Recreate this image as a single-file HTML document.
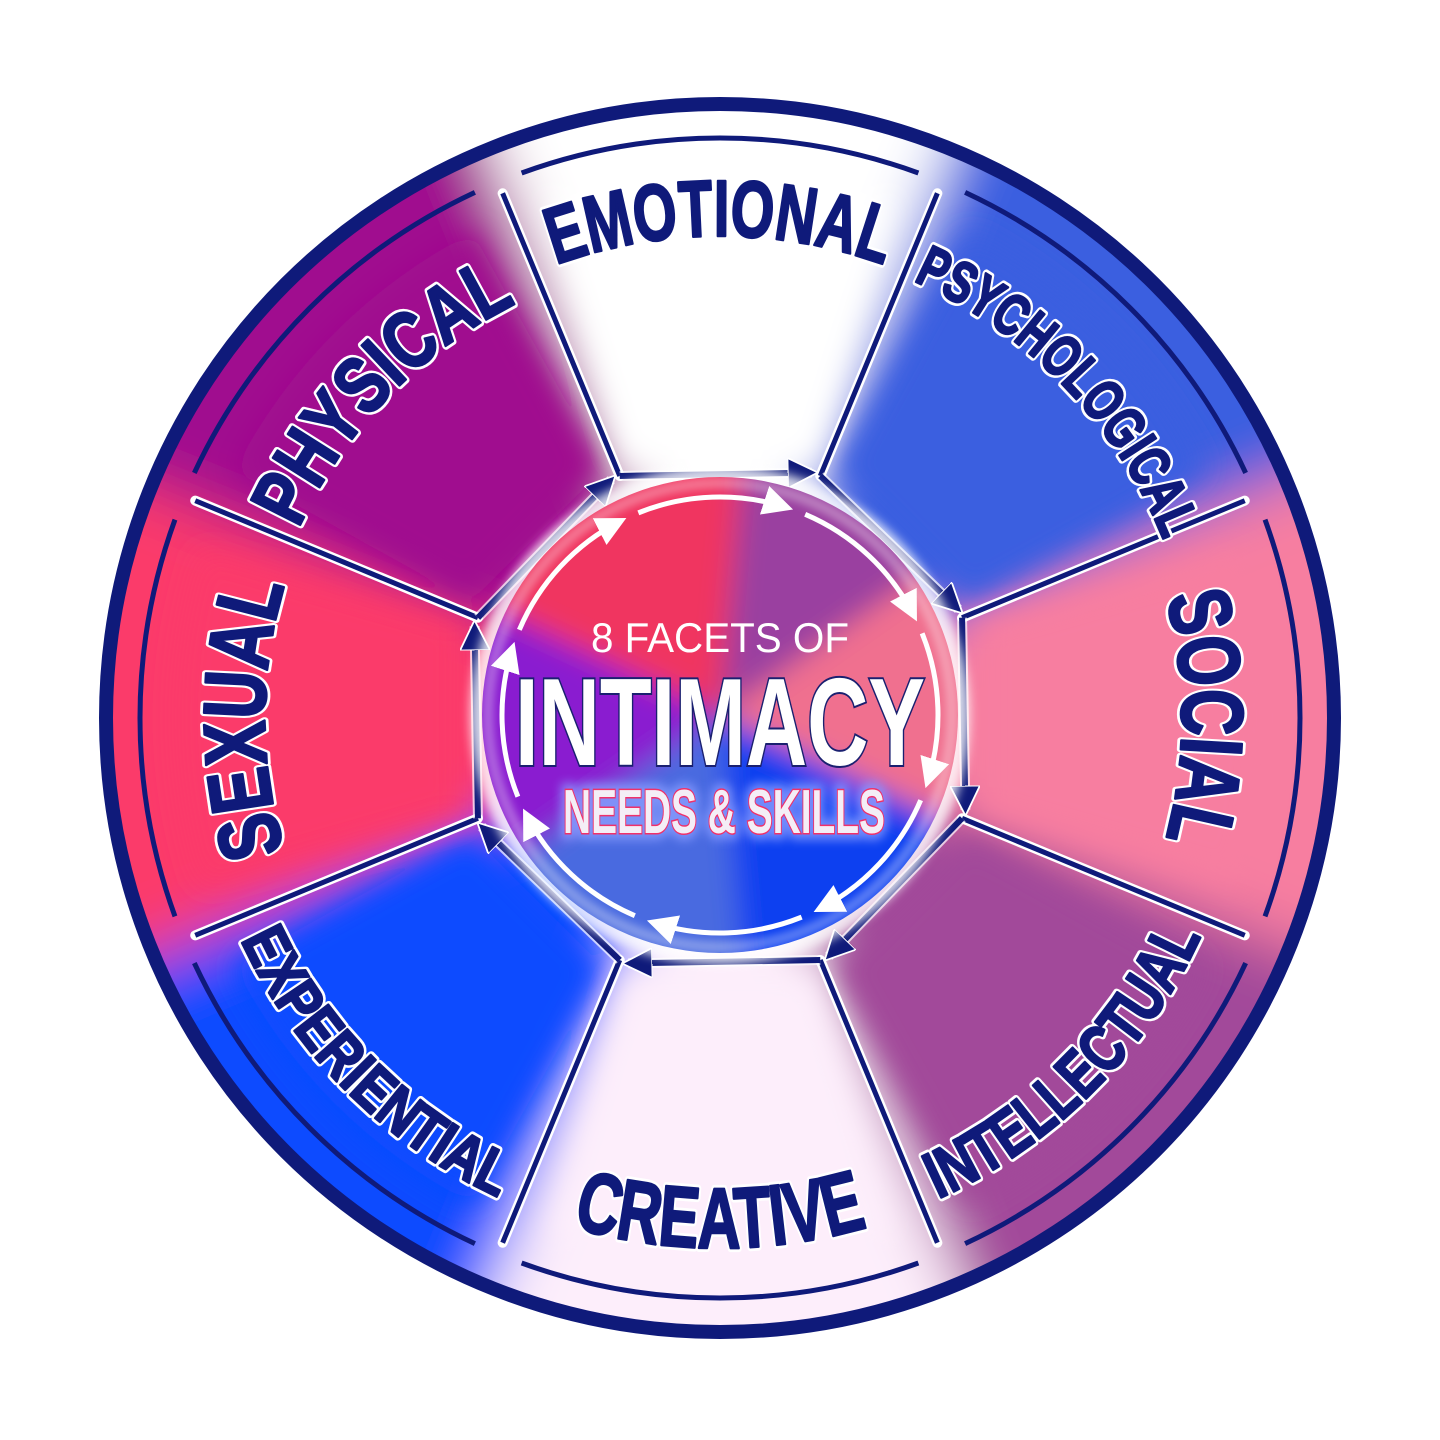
<!DOCTYPE html>
<html><head><meta charset="utf-8">
<style>
html,body{margin:0;padding:0;background:#fff;width:1440px;height:1440px;overflow:hidden;position:relative}
svg{display:block;position:absolute;left:0;top:0}
</style></head>
<body>
<svg id="s" width="1440" height="1440" viewBox="0 0 1440 1440" xmlns="http://www.w3.org/2000/svg" overflow="hidden">
<defs>
<filter id="blur" x="-20%" y="-20%" width="140%" height="140%"><feGaussianBlur stdDeviation="30"/></filter>
<filter id="blur2" x="-20%" y="-20%" width="140%" height="140%"><feGaussianBlur stdDeviation="14"/></filter>
<filter id="glow" x="-20%" y="-40%" width="140%" height="180%"><feGaussianBlur stdDeviation="5"/></filter>
<clipPath id="disc"><circle cx="720" cy="718" r="612"/></clipPath>
<clipPath id="inner"><circle cx="720" cy="715" r="238"/></clipPath>
<marker id="ah" viewBox="0 0 10 10" refX="8" refY="5" markerWidth="5" markerHeight="5" orient="auto" markerUnits="strokeWidth">
<path d="M0,0 L10,5 L0,10 z" fill="#0f1a7a" stroke="#fff" stroke-width="0.6"/></marker>
<marker id="wh" viewBox="0 0 10 10" refX="8" refY="5" markerWidth="6" markerHeight="6" orient="auto" markerUnits="strokeWidth">
<path d="M0,0 L10,5 L0,10 z" fill="#fff"/></marker>
</defs>
<g id="bg" clip-path="url(#disc)"></g>
<g id="g"></g>
</svg>
<script>
const NS="http://www.w3.org/2000/svg",s=document.getElementById('g'),bg=document.getElementById('bg');
const cx=720,cy=718;
function el(t,a,p){const e=document.createElementNS(NS,t);for(const k in a)e.setAttribute(k,a[k]);(p||s).appendChild(e);return e;}
function pt(r,a,c){c=c||[cx,cy];const t=a*Math.PI/180;return [c[0]+r*Math.cos(t),c[1]+r*Math.sin(t)];}
el('rect',{x:0,y:0,width:1440,height:1440,fill:'#fff'},bg);
const cols=[[-90,'#ffffff'],[-45,'#3a5fe0'],[0,'#f77ea0'],[45,'#a24a9a'],[90,'#fdeefb'],[135,'#0a4cff'],[180,'#fb3a6a'],[225,'#a0088f']];
const gb=el('g',{filter:'url(#blur)'},bg);
cols.forEach(([a,c])=>{
 const p1=pt(900,a-23),p2=pt(900,a+23);
 el('path',{d:`M${cx},${cy} L${p1} L${p2} Z`,fill:c},gb);
});
const gb2=el('g',{filter:'url(#blur2)'},bg);
cols.forEach(([a,c])=>{
 const o1=pt(545,a-18),o2=pt(545,a+18),i1=pt(275,a-20),i2=pt(275,a+20);
 el('path',{d:`M${i1} L${o1} A545,545 0 0 1 ${o2} L${i2} Z`,fill:c},gb2);
});
el('circle',{cx:cx,cy:cy,r:614,fill:'none',stroke:'#0f1a7a','stroke-width':14});
cols.forEach(([a])=>{
 const b=a+22.5;
 const i1=pt(262,b),o1=pt(568,b);
 el('path',{d:`M${i1} L${o1}`,stroke:'#fff','stroke-width':10,fill:'none','stroke-linecap':'round'});
 el('path',{d:`M${i1} L${o1}`,stroke:'#0f1a7a','stroke-width':5,fill:'none'});
 const a1=pt(580,a-20),a2=pt(580,a+20);
 el('path',{d:`M${a1} A580,580 0 0 1 ${a2}`,stroke:'#0f1a7a','stroke-width':5,fill:'none'});
});
cols.forEach(([a])=>{
 const c1=pt(262,a-22.5),c2=pt(262,a+20.5);
 el('path',{d:`M${c1} L${c2}`,stroke:'#fff','stroke-width':10,fill:'none',opacity:0.7});
 el('path',{d:`M${c1} L${c2}`,stroke:'#0f1a7a','stroke-width':6,fill:'none','marker-end':'url(#ah)'});
});
const labs=[
 ['EMOTIONAL',-90,482,335,80,1],['PSYCHOLOGICAL',-44,478,370,58,1],['SOCIAL',0,462,245,88,1],
 ['INTELLECTUAL',45,528,380,66,0],['CREATIVE',90,530,300,86,0],['EXPERIENTIAL',135,528,372,62,0],
 ['SEXUAL',180,455,270,88,1],['PHYSICAL',-136,462,320,80,1]];
labs.forEach(([t,a,r,len,fs,cw],i)=>{
 let d;
 if(cw){const p1=pt(r,a-90),p2=pt(r,a+90);d=`M${p1} A${r},${r} 0 0 1 ${p2}`;}
 else{const p1=pt(r,a+90),p2=pt(r,a-90);d=`M${p1} A${r},${r} 0 0 0 ${p2}`;}
 el('path',{id:'lp'+i,d:d,fill:'none'});
 const tx=el('text',{'font-family':'"Liberation Sans Narrow","Liberation Sans",sans-serif','font-weight':'bold','font-size':fs,fill:'#0f1a7a',stroke:'#fff','stroke-width':8,'paint-order':'stroke','stroke-linejoin':'round'});
 const tp=el('textPath',{href:'#lp'+i,startOffset:'50%','text-anchor':'middle',textLength:len,lengthAdjust:'spacingAndGlyphs'},tx);
 tp.textContent=t;
 const tx2=el('text',{'font-family':'"Liberation Sans Narrow","Liberation Sans",sans-serif','font-weight':'bold','font-size':fs,fill:'#0f1a7a',stroke:'#0f1a7a','stroke-width':2.5,'stroke-linejoin':'round'});
 const tp2=el('textPath',{href:'#lp'+i,startOffset:'50%','text-anchor':'middle',textLength:len,lengthAdjust:'spacingAndGlyphs'},tx2);
 tp2.textContent=t;
});
const C=[720,715];
el('circle',{cx:720,cy:715,r:250,fill:'#fff',opacity:0.8,filter:'url(#glow)'});
const ci=el('g',{'clip-path':'url(#inner)'});
const cg=el('g',{filter:'url(#blur2)'},ci);
[[-120,'#f03460'],[-60,'#9a40a0'],[0,'#f0708f'],[60,'#0a40f0'],[120,'#4a6ae0'],[180,'#8a1ad0'],[240,'#f03460']].forEach(([a,c])=>{
 const p1=pt(400,a-35,C),p2=pt(400,a+35,C);
 el('path',{d:`M720,715 L${p1} L${p2} Z`,fill:c},cg);
});
el('circle',{cx:720,cy:715,r:232,fill:'none',stroke:'#fff','stroke-width':6,opacity:0.6,filter:'url(#glow)'});
for(let k=0;k<8;k++){
 const a=-112+k*45;
 const p1=pt(218,a,C),p2=pt(218,a+40,C);
 el('path',{d:`M${p1} A218,218 0 0 1 ${p2}`,fill:'none',stroke:'#fff','stroke-width':5,'marker-end':'url(#wh)'});
}
function txt(x,y,t,a){const e=el('text',Object.assign({x:x,y:y,'text-anchor':'middle'},a));e.textContent=t;return e;}
txt(720,652,'8 FACETS OF',{'font-family':'"Liberation Sans",sans-serif','font-size':42,fill:'#fff',textLength:258,lengthAdjust:'spacingAndGlyphs'});
txt(720,765,'INTIMACY',{'font-family':'"Liberation Sans Narrow","Liberation Sans",sans-serif','font-weight':'bold','font-size':124,fill:'#fff',stroke:'#1a2070','stroke-width':4,'paint-order':'stroke',textLength:410,lengthAdjust:'spacingAndGlyphs'});
txt(724,833,'NEEDS & SKILLS',{'font-family':'"Liberation Sans Narrow","Liberation Sans",sans-serif','font-weight':'bold','font-size':62,fill:'none',stroke:'#8a9cff','stroke-width':14,opacity:0.8,textLength:322,lengthAdjust:'spacingAndGlyphs',filter:'url(#glow)'});
txt(724,833,'NEEDS & SKILLS',{'font-family':'"Liberation Sans Narrow","Liberation Sans",sans-serif','font-weight':'bold','font-size':62,fill:'#f4eef6',stroke:'#f0306a','stroke-width':3,'paint-order':'stroke',textLength:322,lengthAdjust:'spacingAndGlyphs'});
</script>
</body></html>
